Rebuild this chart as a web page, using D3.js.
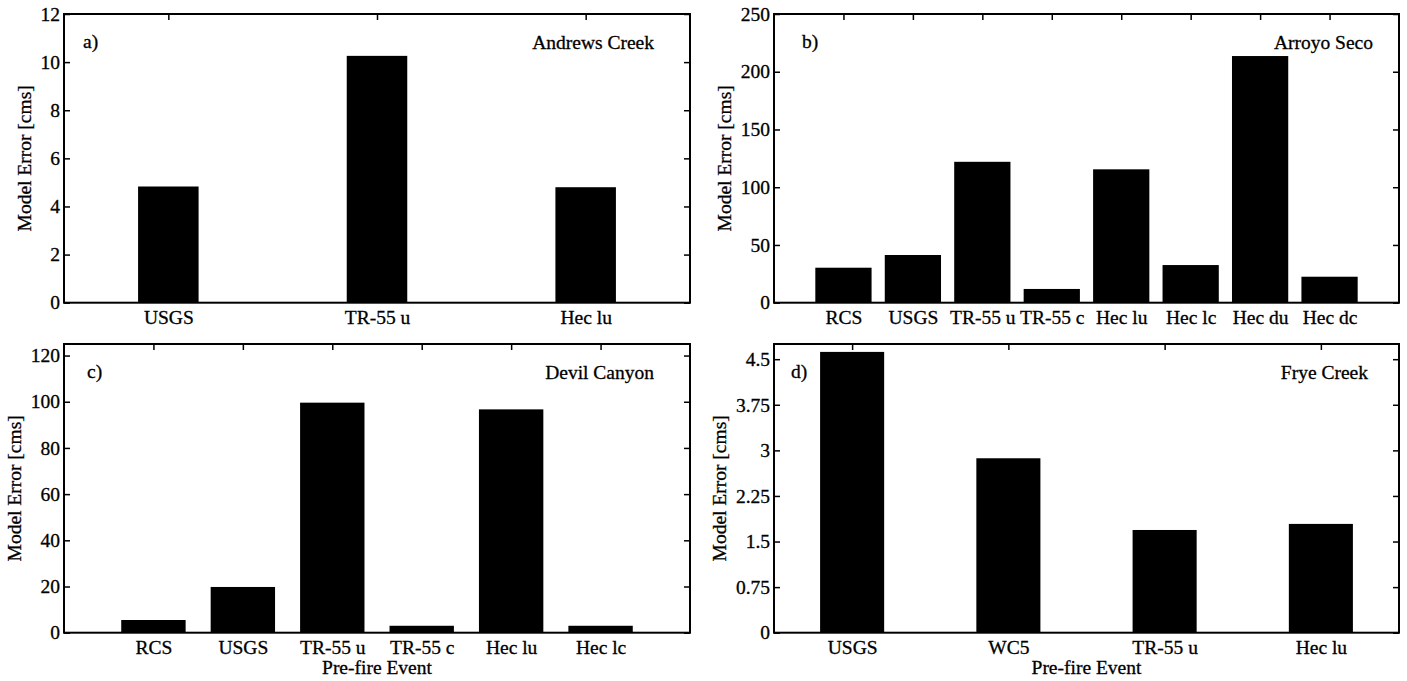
<!DOCTYPE html>
<html>
<head>
<meta charset="utf-8">
<script src="https://cdn.jsdelivr.net/npm/d3@7"></script>
<style>
  body { margin: 0; background: #fff; }
  svg text { font-family: "Liberation Serif", "Times New Roman", serif; font-size: 19.5px; fill: #000; stroke: #000; stroke-width: 0.3px; }
</style>
</head>
<body>
<svg id="chart" width="1407" height="681"></svg>
<script>
// data
const catsA = ["USGS", "TR-55 u", "Hec lu"]
const valsA = [4.83, 10.26, 4.80]
const ticksA = [0, 2, 4, 6, 8, 10, 12]

const catsB = ["RCS", "USGS", "TR-55 u", "TR-55 c", "Hec lu", "Hec lc", "Hec du", "Hec dc"]
const valsB = [30.3, 41.3, 122, 11.9, 115.5, 32.6, 213.6, 22.5]
const ticksB = [0, 50, 100, 150, 200, 250]

const catsC = ["RCS", "USGS", "TR-55 u", "TR-55 c", "Hec lu", "Hec lc"]
const valsC = [5.5, 19.8, 99.6, 3.0, 96.7, 3.0]
const ticksC = [0, 20, 40, 60, 80, 100, 120]

const catsD = ["USGS", "WC5", "TR-55 u", "Hec lu"]
const valsD = [4.62, 2.87, 1.69, 1.79]
const ticksD = [0, 0.75, 1.5, 2.25, 3, 3.75, 4.5]

const yLabel = "Model Error [cms]"
const xLabel = "Pre-fire Event"

const svg = d3.select("#chart")

function drawPanel(cfg) {
    const w = cfg.x1 - cfg.x0
    const h = cfg.y1 - cfg.y0
    const g = svg.append("g").attr("transform", `translate(${cfg.x0},${cfg.y0})`)

    const xScale = d3.scaleLinear().domain(cfg.xlim).range([0, w])
    const yScale = d3.scaleLinear().domain(cfg.ylim).range([h, 0])
    const pos = cfg.cats.map((c, i) => i + 1)
    const bw = cfg.barWidth * (xScale(1) - xScale(0))

    g.selectAll(".bar")
        .data(cfg.vals)
        .join("rect")
            .attr("class", "bar")
            .attr("fill", "#000")
            .attr("x", (d, i) => xScale(i + 1) - bw / 2)
            .attr("width", bw)
            .attr("y", d => yScale(d))
            .attr("height", d => yScale(0) - yScale(d))

    const styleAxis = sel => {
        sel.select(".domain").remove()
        sel.selectAll(".tick line").attr("stroke", "#000").attr("stroke-width", 1.5)
        sel.selectAll("text").attr("font-family", null).attr("font-size", null)
    }

    g.append("g")
        .call(d3.axisLeft(yScale).tickValues(cfg.ticks).tickSizeInner(-6).tickSizeOuter(0).tickPadding(4).tickFormat(d => String(d)))
        .call(styleAxis)
    g.append("g")
        .attr("transform", `translate(${w},0)`)
        .call(d3.axisRight(yScale).tickValues(cfg.ticks).tickSizeInner(-6).tickSizeOuter(0).tickFormat(""))
        .call(styleAxis)
    g.append("g")
        .call(d3.axisTop(xScale).tickValues(pos).tickSizeInner(-6).tickSizeOuter(0).tickFormat(""))
        .call(styleAxis)
    g.append("g")
        .attr("transform", `translate(0,${h})`)
        .call(d3.axisBottom(xScale).tickValues(pos).tickSizeInner(-6).tickSizeOuter(0).tickPadding(7.5).tickFormat((d, i) => cfg.cats[i]))
        .call(styleAxis)

    g.append("rect")
        .attr("width", w).attr("height", h)
        .attr("fill", "none").attr("stroke", "#000").attr("stroke-width", 2)

    // y label sits left of the widest tick label
    let maxW = 0
    g.selectAll("text").each(function () {
        const t = d3.select(this).text()
        if (cfg.ticks.map(String).includes(t)) maxW = Math.max(maxW, this.getComputedTextLength())
    })
    const lx = -4 - maxW - 10
    g.append("text")
        .attr("transform", `translate(${lx},${h / 2}) rotate(-90)`)
        .attr("text-anchor", "middle")
        .text(yLabel)

    g.append("text").attr("x", cfg.tagDx).attr("y", 34).text(cfg.tag)
    g.append("text").attr("x", w - cfg.nameDx).attr("y", 35).attr("text-anchor", "end").text(cfg.name)

    if (cfg.showXLabel) {
        g.append("text")
            .attr("x", w / 2).attr("y", h + 41)
            .attr("text-anchor", "middle")
            .text(xLabel)
    }
}

drawPanel({x0: 64, x1: 690, y0: 14, y1: 302.7, cats: catsA, vals: valsA, ticks: ticksA,
    xlim: [0.5, 3.5], ylim: [0, 12], barWidth: 0.29, tag: "a)", tagDx: 19, name: "Andrews Creek", nameDx: 36})
drawPanel({x0: 774, x1: 1399, y0: 14, y1: 302.7, cats: catsB, vals: valsB, ticks: ticksB,
    xlim: [0, 9], ylim: [0, 250], barWidth: 0.81, tag: "b)", tagDx: 28, name: "Arroyo Seco", nameDx: 26})
drawPanel({x0: 64, x1: 690, y0: 344, y1: 632.7, cats: catsC, vals: valsC, ticks: ticksC,
    xlim: [0, 7], ylim: [0, 125], barWidth: 0.72, tag: "c)", tagDx: 23, name: "Devil Canyon", nameDx: 36, showXLabel: true})
drawPanel({x0: 774, x1: 1399, y0: 344, y1: 632.7, cats: catsD, vals: valsD, ticks: ticksD,
    xlim: [0.5, 4.5], ylim: [0, 4.75], barWidth: 0.41, tag: "d)", tagDx: 17, name: "Frye Creek", nameDx: 31, showXLabel: true})
</script>
</body>
</html>
